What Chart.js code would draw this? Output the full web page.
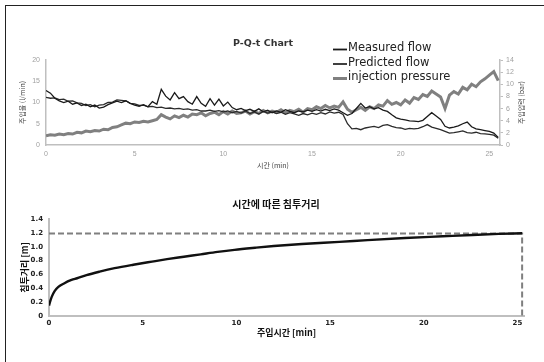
<!DOCTYPE html>
<html>
<head>
<meta charset="utf-8">
<script src="https://cdn.jsdelivr.net/npm/chart.js@4"></script>
<style>
  body { margin: 0; background: #fff; width: 544px; height: 362px; overflow: hidden; position: relative; }
  .frame { position: absolute; left: 5px; top: 5px; width: 600px; height: 400px; border-left: 1px solid #222; border-top: 1px solid #222; }
  #topBox { position: absolute; left: 0; top: 0; width: 544px; height: 180px; }
  #bottomBox { position: absolute; left: 0; top: 185px; width: 544px; height: 177px; }
</style>
</head>
<body>
<div class="frame"></div>
<div id="topBox"><canvas id="pqtChart"></canvas></div>
<div id="bottomBox"><canvas id="depthChart"></canvas></div>

<script>
// ---- P-Q-t chart data (time in min) ----
const times = [
  0, 0.25, 0.5, 0.75, 1, 1.25, 1.5, 1.75, 2, 2.25, 2.5, 2.75, 3, 3.25, 3.5, 3.75,
  4, 4.25, 4.5, 4.75, 5, 5.25, 5.5, 5.75, 6, 6.25, 6.5, 6.75, 7, 7.25, 7.5, 7.75,
  8, 8.25, 8.5, 8.75, 9, 9.25, 9.5, 9.75, 10, 10.25, 10.5, 10.75, 11, 11.25, 11.5, 11.75,
  12, 12.25, 12.5, 12.75, 13, 13.25, 13.5, 13.75, 14, 14.25, 14.5, 14.75, 15, 15.25, 15.5, 15.75,
  16, 16.25, 16.5, 16.75, 17, 17.25, 17.5, 17.75, 18, 18.25, 18.5, 18.75, 19, 19.25, 19.5, 19.75,
  20, 20.25, 20.5, 20.75, 21, 21.25, 21.5, 21.75, 22, 22.25, 22.5, 22.75, 23, 23.25, 23.5, 23.75,
  24, 24.25, 24.5, 24.75, 25, 25.25, 25.5
];

// injection flow measured (l/min)
const measuredFlow = [
  12.8, 12.2, 11.0, 10.4, 10.0, 10.3, 9.6, 9.9, 9.3, 9.6, 9.0, 9.4, 8.7, 8.9, 9.5, 9.9,
  10.3, 10.0, 10.4, 9.8, 9.4, 9.1, 9.5, 9.0, 10.2, 9.6, 13.1, 11.5, 10.6, 12.3, 10.9, 11.4,
  10.2, 9.6, 11.4, 9.8, 9.1, 10.9, 9.4, 10.8, 9.2, 10.1, 8.8, 8.3, 8.6, 8.1, 8.4, 7.9,
  8.5, 7.8, 8.2, 7.6, 8.0, 7.7, 8.3, 7.9, 7.6, 8.0, 7.8, 8.2, 7.9, 8.3, 8.0, 8.4,
  8.1, 8.5, 8.2, 7.6, 7.0, 7.4, 8.6, 9.8, 8.7, 9.0, 8.5, 8.8, 8.2, 7.9, 7.1, 6.4,
  6.1, 5.9, 5.7, 5.6, 5.5, 5.8, 6.7, 7.6, 6.8, 6.0, 4.4, 4.0, 4.2, 4.5, 5.0, 5.4,
  4.3, 3.8, 3.6, 3.4, 3.2, 2.8, 1.8
];

// injection flow predicted (l/min)
const predictedFlow = [
  11.2, 11.0, 11.1, 10.7, 10.8, 10.3, 10.4, 9.9, 9.8, 9.3, 9.5, 9.0, 9.4, 9.5, 10.0, 10.1,
  10.6, 10.5, 10.4, 9.8, 9.7, 9.3, 9.4, 9.0, 9.1, 8.8, 8.9, 8.6, 8.7, 8.5, 8.6, 8.4,
  8.5, 8.2, 8.3, 8.0, 8.0, 8.2, 7.9, 8.1, 7.8, 8.0, 7.6, 7.9, 7.5, 8.0, 7.4, 7.8,
  7.3, 7.9, 7.5, 7.8, 7.4, 7.7, 7.2, 7.6, 7.3, 7.0, 7.4, 7.1, 7.5, 7.2, 7.6, 7.3,
  7.8, 7.5, 7.7, 7.2, 5.0, 3.8, 3.9, 3.6, 4.0, 4.2, 4.4, 4.1, 4.6, 4.8, 4.4, 4.1,
  4.0, 3.7, 3.9, 3.8, 3.9, 4.3, 4.8, 4.2, 3.9, 3.6, 3.2, 2.8, 2.9, 3.1, 3.3, 2.9,
  2.8, 3.0, 2.7, 2.6, 2.5, 2.3, 1.6
];

// injection pressure (bar)
const injectionPressure = [
  1.5, 1.7, 1.6, 1.8, 1.7, 1.9, 1.8, 2.1, 2.0, 2.3, 2.2, 2.4, 2.3, 2.6, 2.5, 2.9,
  3.0, 3.3, 3.6, 3.5, 3.8, 3.7, 3.9, 3.8, 4.0, 4.2, 5.0, 4.6, 4.3, 4.8, 4.5, 4.9,
  4.6, 5.1, 5.0, 5.3, 4.8, 5.2, 5.4, 5.0, 5.5, 5.1, 5.6, 5.2, 5.3, 5.6, 5.1, 5.5,
  5.2, 5.7, 5.3, 5.6, 5.4, 5.8, 5.3, 5.7, 5.5, 5.9, 5.4, 6.0, 5.8, 6.3, 6.0, 6.5,
  6.1, 6.4, 6.2, 7.1, 5.9, 5.4, 5.8, 6.2, 5.7, 6.3, 6.0, 6.6, 6.4, 7.3, 6.7, 7.0,
  6.6, 7.4, 6.9, 7.8, 7.5, 8.3, 8.0, 8.9, 8.4, 7.9, 6.0, 8.2, 8.8, 8.4, 9.5, 9.1,
  10.0, 9.6, 10.4, 10.9, 11.5, 12.1, 10.6
];

// ---- penetration distance data ----
const penTime  = [0, 0.05, 0.15, 0.3, 0.5, 0.8, 1.2, 1.5, 2, 2.7, 3.5, 4.5, 5.5, 6.3, 7.2, 8.1, 9, 9.9, 11, 12, 13.5, 15.5, 17, 19, 21, 22.6, 24, 25.25];
const penDepth = [0.15, 0.2, 0.28, 0.36, 0.42, 0.47, 0.52, 0.545, 0.59, 0.64, 0.69, 0.74, 0.785, 0.82, 0.855, 0.89, 0.925, 0.955, 0.985, 1.01, 1.04, 1.07, 1.095, 1.125, 1.15, 1.17, 1.185, 1.195];
const limitTime  = [0, 25.25, 25.25];
const limitDepth = [1.19, 1.19, 0];

const toPoints = (xs, ys) => xs.map((x, i) => ({ x: x, y: ys[i] }));

const axisGray = '#bfbfbf';
const tickGray = '#a0a0a0';

// titles, legend and the right axis title for the top chart
const pqtText = {
  id: 'pqtText',
  afterDraw(chart) {
    const ctx = chart.ctx;
    const area = chart.chartArea;
    ctx.save();
    ctx.textBaseline = 'middle';

    ctx.fillStyle = '#333';
    ctx.textAlign = 'center';
    ctx.font = 'bold 9.5px "DejaVu Sans"';
    ctx.fillText('P-Q-t Chart', 263, 44);

    // legend drawn over the plot, top right
    ctx.textAlign = 'left';
    ctx.font = '11.5px "DejaVu Sans"';
    chart.data.datasets.forEach((ds, i) => {
      const y = 48.5 + i * 14.5;
      ctx.strokeStyle = ds.borderColor;
      ctx.lineWidth = i === 2 ? 3 : 1.8;
      ctx.beginPath();
      ctx.moveTo(333, y + 1);
      ctx.lineTo(347, y + 1);
      ctx.stroke();
      ctx.fillStyle = '#222';
      ctx.fillText(ds.label, 348, y);
    });

    // right axis title, rotated like the left one
    ctx.translate(521, (area.top + area.bottom) / 2);
    ctx.rotate(-Math.PI / 2);
    ctx.textAlign = 'center';
    ctx.fillStyle = '#444';
    ctx.font = '7px "Noto Sans CJK KR"';
    ctx.fillText('주입압력 (bar)', 0, 0);
    ctx.restore();
  }
};

new Chart(document.getElementById('pqtChart'), {
  type: 'line',
  data: {
    datasets: [
      { label: 'Measured flow', data: toPoints(times, measuredFlow), borderColor: '#1a1a1a', borderWidth: 1.3, yAxisID: 'y' },
      { label: 'Predicted flow', data: toPoints(times, predictedFlow), borderColor: '#2b2b2b', borderWidth: 1.3, yAxisID: 'y' },
      { label: 'injection pressure', data: toPoints(times, injectionPressure), borderColor: '#808080', borderWidth: 3, yAxisID: 'y2' }
    ]
  },
  options: {
    responsive: true,
    maintainAspectRatio: false,
    animation: false,
    elements: { point: { radius: 0 }, line: { tension: 0 } },
    layout: { padding: { left: 14, right: 0, top: 60, bottom: 0 } },
    plugins: { legend: { display: false }, title: { display: false }, tooltip: { enabled: false } },
    scales: {
      x: {
        type: 'linear', min: 0, max: 25.6,
        grid: { display: false, drawTicks: false },
        border: { color: axisGray, width: 1.5 },
        ticks: { stepSize: 5, includeBounds: false, color: tickGray, font: { size: 7, family: 'Liberation Sans' }, padding: 5, maxRotation: 0 },
        title: { display: true, text: '시간 (min)', color: '#444', font: { size: 7, family: 'Noto Sans CJK KR' }, padding: { top: 0, bottom: 10 } },
        afterFit: (s) => { s.height = 35; }
      },
      y: {
        position: 'left', min: 0, max: 20,
        grid: { display: false, drawTicks: false },
        border: { color: axisGray, width: 1.5 },
        ticks: { stepSize: 5, color: tickGray, font: { size: 7, family: 'Liberation Sans' }, padding: 6 },
        title: { display: true, text: '주입율 (l/min)', color: '#444', font: { size: 7, family: 'Noto Sans CJK KR' }, padding: { top: 4, bottom: 0 } },
        afterFit: (s) => { s.width = 32; }
      },
      y2: {
        position: 'right', min: 0, max: 14,
        grid: { drawOnChartArea: false, drawTicks: true, tickLength: 3, color: axisGray },
        border: { color: axisGray, width: 1.5 },
        ticks: { stepSize: 2, color: tickGray, font: { size: 7, family: 'Liberation Sans' }, padding: 3 },
        afterFit: (s) => { s.width = 44; }
      }
    }
  },
  plugins: [pqtText]
});

// title for the lower chart
const depthText = {
  id: 'depthText',
  afterDraw(chart) {
    const ctx = chart.ctx;
    ctx.save();
    ctx.fillStyle = '#111';
    ctx.textAlign = 'center';
    ctx.textBaseline = 'middle';
    ctx.font = 'bold 10px "Noto Sans CJK KR"';
    ctx.fillText('시간에 따른 침투거리', 276, 19);
    ctx.restore();
  }
};

new Chart(document.getElementById('depthChart'), {
  type: 'line',
  data: {
    datasets: [
      { label: '침투거리', data: toPoints(penTime, penDepth), borderColor: '#111', borderWidth: 2.4, cubicInterpolationMode: 'monotone' },
      { label: 'limit', data: toPoints(limitTime, limitDepth), borderColor: '#7f7f7f', borderWidth: 2, borderDash: [6, 3] }
    ]
  },
  options: {
    responsive: true,
    maintainAspectRatio: false,
    animation: false,
    elements: { point: { radius: 0 } },
    layout: { padding: { left: 14, right: 20, top: 34, bottom: 0 } },
    plugins: { legend: { display: false }, title: { display: false }, tooltip: { enabled: false } },
    scales: {
      x: {
        type: 'linear', min: 0, max: 25.35,
        grid: { display: false, drawTicks: false },
        border: { color: axisGray, width: 2 },
        ticks: { stepSize: 5, includeBounds: false, color: '#222', font: { size: 7, weight: 'bold', family: 'DejaVu Sans' }, padding: 3, maxRotation: 0 },
        title: { display: true, text: '주입시간 [min]', color: '#111', font: { size: 9, weight: 'bold', family: 'Noto Sans CJK KR' }, padding: { top: 0, bottom: 24 } },
        afterFit: (s) => { s.height = 46; }
      },
      y: {
        min: 0, max: 1.4,
        grid: { display: false, drawTicks: false },
        border: { color: axisGray, width: 2 },
        ticks: { stepSize: 0.2, color: '#222', font: { size: 7, weight: 'bold', family: 'DejaVu Sans' }, padding: 6 },
        title: { display: true, text: '침투거리 [m]', color: '#111', font: { size: 9, weight: 'bold', family: 'Noto Sans CJK KR' }, padding: { top: 5, bottom: 0 } },
        afterFit: (s) => { s.width = 35; }
      }
    }
  },
  plugins: [depthText]
});
</script>
</body>
</html>
